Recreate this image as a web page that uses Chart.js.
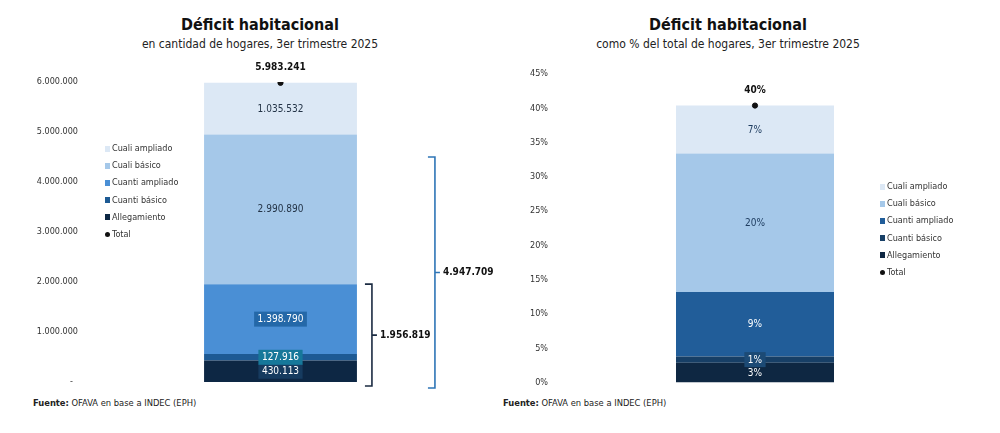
<!DOCTYPE html>
<html>
<head>
<meta charset="utf-8">
<script src="https://cdn.jsdelivr.net/npm/chart.js@4.4.1/dist/chart.umd.min.js"></script>
<style>
  body { margin: 0; width: 1000px; height: 433px; background: #fff; position: relative; overflow: hidden;
         font-family: "DejaVu Sans Condensed", "DejaVu Sans", sans-serif; color: #222; }
  .titulo { position: absolute; width: 420px; text-align: center; font-weight: bold; font-size: 16px; line-height: 18px; color: #111; }
  .sub { position: absolute; width: 420px; text-align: center; font-size: 12px; line-height: 14px; color: #222; }
  .caja { position: absolute; }
  .leyenda { position: absolute; font-size: 9px; color: #333; }
  .leyenda div { height: 17.2px; line-height: 17.2px; white-space: nowrap; }
  .leyenda span { display: inline-block; width: 5px; height: 6px; margin-right: 2px; vertical-align: -0.5px; }
  .leyenda span.punto { border-radius: 50%; width: 5px; height: 5px; }
  .fuente { position: absolute; top: 397px; font-size: 9.3px; color: #222; }
</style>
</head>
<body>
<div class="titulo" style="left:50px;top:16px">Déficit habitacional</div>
<div class="sub" style="left:50px;top:37px">en cantidad de hogares, 3er trimestre 2025</div>
<div class="titulo" style="left:518px;top:16px">Déficit habitacional</div>
<div class="sub" style="left:518px;top:37px">como % del total de hogares, 3er trimestre 2025</div>

<div class="caja" style="left:0;top:50px"><canvas id="graficoHogares" width="500" height="345"></canvas></div>
<div class="caja" style="left:500px;top:50px"><canvas id="graficoPorcentaje" width="480" height="345"></canvas></div>

<div class="leyenda" id="leyendaHogares" style="left:105px;top:140px"></div>
<div class="leyenda" id="leyendaPorcentaje" style="left:880px;top:178px"></div>

<div class="fuente" style="left:33px"><b>Fuente:</b> OFAVA en base a INDEC (EPH)</div>
<div class="fuente" style="left:503px"><b>Fuente:</b> OFAVA en base a INDEC (EPH)</div>

<script>
// Datos
var categorias = ['3er trimestre 2025'];
var componentes = ['Allegamiento', 'Cuanti básico', 'Cuanti ampliado', 'Cuali básico', 'Cuali ampliado'];
var hogares = [430113, 127916, 1398790, 2990890, 1035532];
var totalHogares = [5983241];
var porcentajes = [2.9, 0.9, 9.4, 20.2, 7.0];
var totalPorcentaje = [40.4];
var ticksHogares = [0, 1000000, 2000000, 3000000, 4000000, 5000000, 6000000];
var ticksPorcentaje = [0, 5, 10, 15, 20, 25, 30, 35, 40, 45];
// llaves: cuantos componentes suman y hasta donde llega la llave en el grafico
var llaveComponentes = [3, 4];
var llaveTope = [1956819, 4500000];

var coloresHogares = ['#0d2744', '#1d5a94', '#4a8fd5', '#a5c8e9', '#dce8f5'];
var coloresPorcentaje = ['#0e2742', '#173f66', '#215d99', '#a5c8e9', '#dce8f5'];
var etiquetasHogares = [
  { color: '#fff', fondo: '#163b5f' },
  { color: '#fff', fondo: '#16789a' },
  { color: '#fff', fondo: '#2468a8' },
  { color: '#243447', fondo: null },
  { color: '#243447', fondo: null }
];
var etiquetasPorcentaje = [
  { color: '#fff', fondo: null },
  { color: '#fff', fondo: '#1c4a75' },
  { color: '#fff', fondo: null },
  { color: '#1f3d60', fondo: null },
  { color: '#1f3d60', fondo: null }
];
var fuente = '"DejaVu Sans Condensed", "DejaVu Sans", sans-serif';

function miles(v) {
  return String(Math.round(v)).replace(/\B(?=(\d{3})+(?!\d))/g, '.');
}
function pct(v) {
  return Math.round(v) + '%';
}
function suma(arr, n) {
  return arr.slice(0, n).reduce(function (a, b) { return a + b; }, 0);
}

function armarGrafico(id, valores, total, colores, estilos, ticks, formato, opc) {
  // etiquetas dentro de las barras y total arriba
  var pluginEtiquetas = {
    id: 'etiquetas',
    afterDatasetsDraw: function (chart) {
      var ctx = chart.ctx;
      ctx.save();
      ctx.textAlign = 'center';
      ctx.textBaseline = 'middle';
      chart.data.datasets.forEach(function (ds, i) {
        var el = chart.getDatasetMeta(i).data[0];
        if (ds.type === 'line') {
          ctx.font = 'bold 10px ' + fuente;
          ctx.fillStyle = '#111';
          ctx.fillText(formato(ds.data[0]), el.x, el.y - 15);
          return;
        }
        var est = estilos[i];
        var y = (el.y + el.base) / 2;
        var txt = formato(ds.data[0]);
        ctx.font = '10px ' + fuente;
        if (est.fondo) {
          var w = ctx.measureText(txt).width + 7;
          ctx.fillStyle = est.fondo;
          ctx.fillRect(el.x - w / 2, y - 7.5, w, 15);
        }
        ctx.fillStyle = est.color;
        ctx.fillText(txt, el.x, y + 0.5);
      });
      ctx.restore();
    }
  };

  // llaves a la derecha de la barra
  var pluginLlaves = {
    id: 'llaves',
    afterDatasetsDraw: function (chart) {
      if (!opc.llaves) return;
      var ctx = chart.ctx;
      var y = chart.scales.y;
      var base = y.getPixelForValue(0);
      var el = chart.getDatasetMeta(0).data[0];
      var derecha = el.x + el.width / 2;
      ctx.save();
      opc.llaves.forEach(function (it) {
        var x = derecha + it.separacion;
        var arriba = y.getPixelForValue(it.tope);
        var abajo = base + it.bajo;
        var medio = (arriba + abajo) / 2;
        ctx.strokeStyle = it.color;
        ctx.lineWidth = 1.6;
        ctx.beginPath();
        ctx.moveTo(x - 7, arriba);
        ctx.lineTo(x, arriba);
        ctx.lineTo(x, abajo);
        ctx.lineTo(x - 7, abajo);
        ctx.moveTo(x, medio);
        ctx.lineTo(x + 5, medio);
        ctx.stroke();
        ctx.font = 'bold 10px ' + fuente;
        ctx.fillStyle = '#111';
        ctx.textAlign = 'left';
        ctx.textBaseline = 'middle';
        ctx.fillText(it.texto, x + 8, medio);
      });
      ctx.restore();
    }
  };

  var datasets = componentes.map(function (nombre, i) {
    return {
      label: nombre,
      data: [valores[i]],
      backgroundColor: colores[i],
      stack: 'barras',
      order: 1,
      barPercentage: opc.barra,
      categoryPercentage: 1
    };
  });
  datasets.push({
    type: 'line',
    label: 'Total',
    data: total,
    stack: 'total',
    order: 0,
    showLine: false,
    pointRadius: 2.6,
    pointBackgroundColor: '#111',
    pointBorderColor: '#111'
  });

  return new Chart(document.getElementById(id), {
    type: 'bar',
    data: { labels: categorias, datasets: datasets },
    options: {
      responsive: false,
      animation: false,
      layout: { padding: opc.padding },
      scales: {
        x: { stacked: true, display: false },
        y: {
          stacked: true,
          min: ticks[0],
          max: ticks[ticks.length - 1],
          grid: { display: false, drawTicks: false },
          border: { display: false },
          afterBuildTicks: function (scale) {
            scale.ticks = ticks.map(function (v) { return { value: v }; });
          },
          afterFit: function (scale) { scale.width = opc.ancho; },
          ticks: {
            padding: 7,
            color: '#333',
            font: { family: fuente, size: 9 },
            callback: opc.tick
          }
        }
      },
      plugins: {
        legend: { display: false },
        tooltip: { enabled: false }
      }
    },
    plugins: [pluginEtiquetas, pluginLlaves]
  });
}

armarGrafico('graficoHogares', hogares, totalHogares, coloresHogares, etiquetasHogares, ticksHogares, miles, {
  barra: 0.391,
  ancho: 85,
  padding: { top: 32, bottom: 13, left: 0, right: 24 },
  tick: function (v) { return v === 0 ? '-  ' : miles(v); },
  llaves: [
    { texto: miles(suma(hogares, llaveComponentes[0])), tope: llaveTope[0], separacion: 15, bajo: 4, color: '#1b2b42' },
    { texto: miles(suma(hogares, llaveComponentes[1])), tope: llaveTope[1], separacion: 78, bajo: 6, color: '#2e75b6' }
  ]
});

armarGrafico('graficoPorcentaje', porcentajes, totalPorcentaje, coloresPorcentaje, etiquetasPorcentaje, ticksPorcentaje, pct, {
  barra: 0.395,
  ancho: 55,
  padding: { top: 24, bottom: 9, left: 0, right: 25 },
  tick: function (v) { return v + '%'; },
  llaves: null
});

// leyendas (orden inverso, como en el original)
function armarLeyenda(id, colores) {
  var cont = document.getElementById(id);
  for (var i = componentes.length - 1; i >= 0; i--) {
    var d = document.createElement('div');
    d.innerHTML = '<span style="background:' + colores[i] + '"></span>' + componentes[i];
    cont.appendChild(d);
  }
  var t = document.createElement('div');
  t.innerHTML = '<span class="punto" style="background:#111"></span>Total';
  cont.appendChild(t);
}
armarLeyenda('leyendaHogares', coloresHogares);
armarLeyenda('leyendaPorcentaje', coloresPorcentaje);
</script>
</body>
</html>
